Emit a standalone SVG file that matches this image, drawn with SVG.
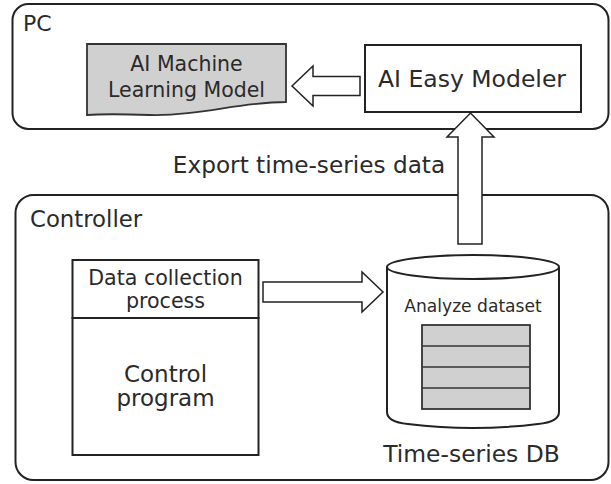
<svg xmlns="http://www.w3.org/2000/svg" width="611" height="484" viewBox="0 0 611 484">
<style>
.box{fill:none;stroke:#222;stroke-width:2}
.wbox{fill:#fff;stroke:#222;stroke-width:2}
.gray{fill:#d0d0d0;stroke:#333;stroke-width:1.8}
.arrow{fill:#fff;stroke:#222;stroke-width:1.5;stroke-linejoin:miter}
text{font-family:"DejaVu Sans","Liberation Sans",sans-serif;fill:#2a2a2a}
.c{text-anchor:middle}
</style>
<rect width="611" height="484" fill="#fff"/>
<g id="pc">
<rect class="box" x="12.5" y="4" width="596" height="125" rx="16"/>
<text x="23" y="31" font-size="22">PC</text>
</g>
<g id="controller">
<rect class="box" x="15.5" y="195" width="593" height="285" rx="18"/>
<text x="30" y="227" font-size="22.8">Controller</text>
</g>
<g id="ml-model">
<path class="gray" d="M87,44 H286 V102 C240,102 200,116 150,115 C120,114 100,114 87,115 Z"/>
<text class="c" x="186.5" y="71" font-size="20.5">AI Machine</text>
<text class="c" x="186.5" y="97" font-size="20.5">Learning Model</text>
</g>
<g id="easy-modeler">
<rect class="wbox" x="365" y="45" width="216" height="67"/>
<text class="c" x="472" y="87" font-size="23.5">AI Easy Modeler</text>
</g>
<g id="data-collection">
<rect class="wbox" x="72.5" y="260" width="186" height="58"/>
<text class="c" x="165.5" y="285" font-size="20.6">Data collection</text>
<text class="c" x="165.5" y="308" font-size="20.6">process</text>
</g>
<g id="control-program">
<rect class="wbox" x="72.5" y="318" width="186" height="137"/>
<text class="c" x="165.5" y="382" font-size="23">Control</text>
<text class="c" x="165.5" y="406" font-size="23">program</text>
</g>
<g id="timeseries-db">
<path class="wbox" d="M387,267 V412 Q387,422 408,424 Q473,432 538,424 Q559,422 559,412 V267"/>
<ellipse class="wbox" cx="473" cy="267" rx="86" ry="12"/>
<text class="c" x="473" y="312" font-size="17.1">Analyze dataset</text>
<rect class="gray" x="422" y="325" width="108" height="84" stroke-width="1.5"/>
<path d="M422,346 H530 M422,367 H530 M422,388 H530" stroke="#333" stroke-width="1.5"/>
<text class="c" x="471.5" y="462" font-size="23.4">Time-series DB</text>
</g>
<g id="connectors">
<path class="arrow" d="M360,76.5 H313 V66 L292,86 L313,106 V95.5 H360 Z"/>
<path class="arrow" d="M263,282 H362 V272 L383,292 L362,312 V302 H263 Z"/>
<path class="arrow" d="M458,244 V137 H447 L470.5,113 L494,137 H482 V244 Z"/>
<text class="c" x="309" y="173" font-size="23.2">Export time-series data</text>
</g>
</svg>
